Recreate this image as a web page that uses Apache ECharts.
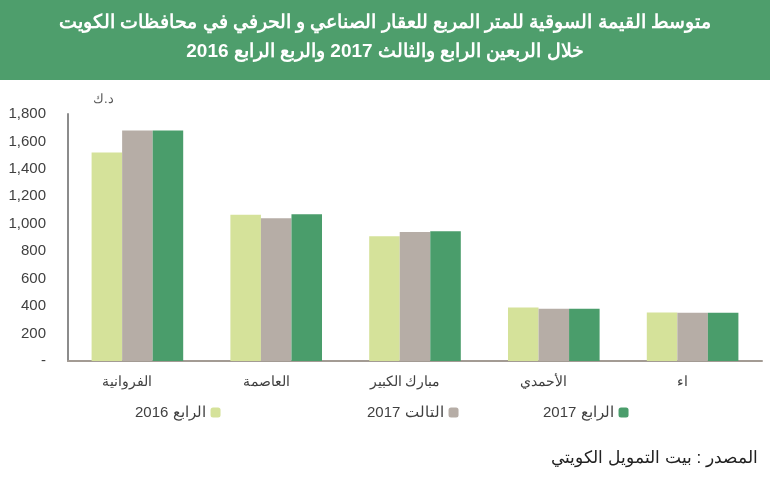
<!DOCTYPE html>
<html>
<head>
<meta charset="utf-8">
<script src="https://cdn.jsdelivr.net/npm/echarts@6/dist/echarts.min.js"></script>
<style>
  html, body { margin: 0; padding: 0; background: #fff; }
  #chart { width: 770px; height: 477px; }
</style>
</head>
<body>
<div id="chart"></div>
<script>
// المحافظات من اليسار الى اليمين
const regions = ['الفروانية', 'العاصمة', 'مبارك الكبير', 'الأحمدي', 'اء']
const seriesNames = ['الرابع 2016', 'التالت 2017', 'الرابع 2017']
const q4_2016 = [1520, 1065, 910, 390, 353]
const q3_2017 = [1680, 1040, 940, 380, 352]
const q4_2017 = [1680, 1070, 945, 380, 352]
const yTicks = [0, 200, 400, 600, 800, 1000, 1200, 1400, 1600, 1800]

const titleText = 'متوسط القيمة السوقية للمتر المربع للعقار الصناعي و الحرفي في محافظات الكويت\nخلال الربعين الرابع والثالث 2017 والربع الرابع 2016'
const unitText = 'د.ك'
const sourceText = 'المصدر : بيت التمويل الكويتي'

const colors = ['#d5e29a', '#b6ada6', '#4a9d6b']
const values = [q4_2016, q3_2017, q4_2017]

var chartDom = document.getElementById('chart');
var myChart = echarts.init(chartDom);

function legendAt (index, left) {
  return {
    data: [seriesNames[index]],
    left: left,
    top: 400,
    align: 'right',
    itemWidth: 10,
    itemHeight: 10,
    itemGap: 5,
    textStyle: { fontFamily: 'Liberation Sans', fontSize: 15, color: '#404040' }
  }
}

var option = {
  animation: false,
  backgroundColor: '#fff',
  color: colors,
  graphic: [
    { type: 'rect', left: 0, top: 0, z: -1, shape: { width: 770, height: 80 }, style: { fill: '#4e9e6c' } },
    { type: 'text', left: 93, top: 93, style: { text: unitText, font: '13px "Liberation Sans"', fill: '#595959' } },
    { type: 'text', right: 12, top: 450, style: { text: sourceText, font: '17px "Liberation Sans"', fill: '#222' } }
  ],
  title: {
    text: titleText,
    left: 'center',
    top: 3,
    textStyle: {
      color: '#fff',
      fontFamily: 'Liberation Sans',
      fontWeight: 'bold',
      fontSize: 19,
      lineHeight: 29,
      align: 'center'
    }
  },
  legend: [legendAt(0, 130), legendAt(1, 362), legendAt(2, 538)],
  grid: { left: 68, right: 8, top: 114, bottom: 116 },
  xAxis: {
    type: 'category',
    data: regions,
    axisLine: { lineStyle: { color: '#a39b94', width: 2 } },
    axisTick: { show: false },
    axisLabel: { fontFamily: 'Liberation Sans', fontSize: 14, color: '#404040', margin: 14, padding: [0, 20, 0, 0] }
  },
  yAxis: {
    type: 'value',
    min: 0,
    max: yTicks[yTicks.length - 1],
    interval: 200,
    axisLine: { show: true, lineStyle: { color: '#8c8c8c', width: 2 } },
    axisTick: { show: false },
    splitLine: { show: false },
    axisLabel: {
      fontFamily: 'Liberation Sans',
      fontSize: 15,
      color: '#404040',
      margin: 22,
      formatter: function (v) { return v === 0 ? '-' : v.toLocaleString('en-US') }
    }
  },
  series: values.map(function (data, i) {
    return {
      name: seriesNames[i],
      type: 'bar',
      data: data,
      barGap: 0,
      barCategoryGap: '34%',
      itemStyle: { color: colors[i] }
    }
  })
};

option && myChart.setOption(option);
</script>
</body>
</html>
